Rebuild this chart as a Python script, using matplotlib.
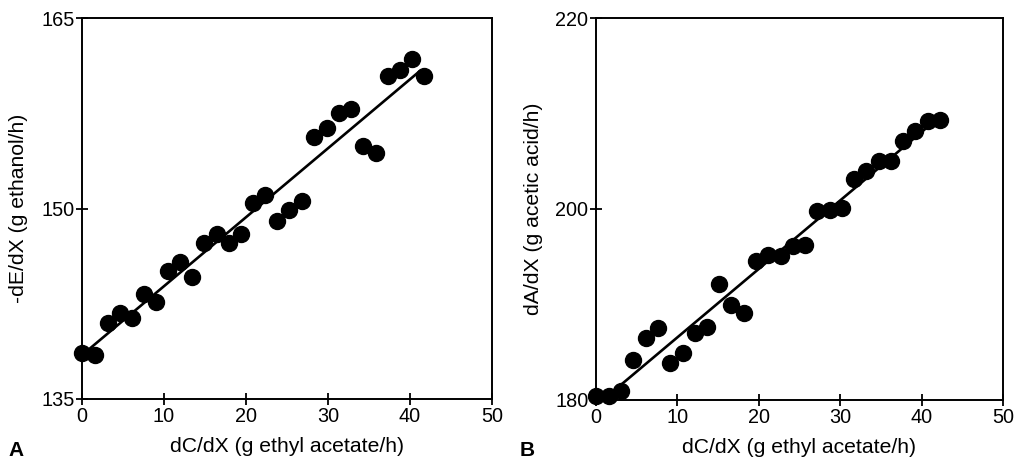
import numpy as np
import matplotlib
matplotlib.use("Agg")
import matplotlib.pyplot as plt

plt.rcParams['font.family'] = ['Liberation Sans', 'DejaVu Sans']

# Panel A data: ethyl acetate rate vs ethanol consumption
xa = [0.0, 1.6, 3.2, 4.6, 6.1, 7.6, 9.0, 10.5, 12.0, 13.4, 14.9, 16.5, 17.9, 19.4,
      20.9, 22.3, 23.8, 25.2, 26.8, 28.3, 29.9, 31.3, 32.8, 34.3, 35.9, 37.3, 38.8,
      40.2, 41.7]
ya = [138.6, 138.5, 141.0, 141.8, 141.4, 143.3, 142.6, 145.1, 145.8, 144.6, 147.3,
      148.0, 147.3, 148.0, 150.4, 151.1, 149.0, 149.9, 150.6, 155.6, 156.3, 157.5,
      157.8, 154.9, 154.4, 160.4, 160.9, 161.8, 160.4]

# Panel B data: ethyl acetate rate vs acetic acid consumption
xb = [0.0, 1.6, 3.1, 4.5, 6.1, 7.6, 9.1, 10.7, 12.2, 13.6, 15.1, 16.6, 18.2, 19.7,
      21.1, 22.7, 24.2, 25.7, 27.1, 28.7, 30.2, 31.7, 33.2, 34.8, 36.2, 37.7, 39.2,
      40.8, 42.3]
yb = [180.4, 180.4, 180.9, 184.2, 186.5, 187.5, 183.9, 184.9, 187.0, 187.6, 192.1,
      189.9, 189.1, 194.6, 195.2, 195.1, 196.1, 196.2, 199.8, 199.9, 200.1, 203.1,
      204.0, 205.0, 205.0, 207.1, 208.2, 209.2, 209.3]

xticks = [0, 10, 20, 30, 40, 50]
yticks_a = [135, 150, 165]
yticks_b = [180, 200, 220]
xlabel = "dC/dX (g ethyl acetate/h)"
ylabel_a = "-dE/dX (g ethanol/h)"
ylabel_b = "dA/dX (g acetic acid/h)"

W, H = 1017, 463
fig = plt.figure(figsize=(W / 100, H / 100), dpi=100)

def px_axes(l, r, t, b):
    return fig.add_axes([l / W, 1 - b / H, (r - l) / W, (b - t) / H])

axA = px_axes(82, 492, 18, 399)
axB = px_axes(596, 1003, 18, 400)

fs_tick = 14.3
fs_label = 15.2

def style(ax, x, y, yticks, ylabel, ylabel_x):
    ax.plot(x, y, 'o', color='black', markersize=11.5, zorder=3, clip_on=False)
    k, c = np.polyfit(x, y, 1)
    xs = np.array([min(x) + 0.6, max(x) - 0.6])
    ax.plot(xs, k * xs + c, '-', color='black', lw=1.9, zorder=2)
    ax.set_xlim(0, 50)
    ax.set_ylim(yticks[0], yticks[-1])
    ax.set_xticks(xticks)
    ax.set_yticks(yticks)
    ax.tick_params(direction='inout', length=8, width=1.3, labelsize=fs_tick,
                   colors='black', pad=1.5)
    for s in ax.spines.values():
        s.set_linewidth(1.4)
        s.set_color('black')
    ax.set_xlabel(xlabel, fontsize=fs_label)
    ax.xaxis.set_label_coords(0.5, -0.1)
    ax.set_ylabel(ylabel, fontsize=fs_label)
    ax.yaxis.set_label_coords(ylabel_x, 0.5)

style(axA, xa, ya, yticks_a, ylabel_a, -0.132)
style(axB, xb, yb, yticks_b, ylabel_b, -0.131)

fig.text(16 / W, 1 - 451 / H, "A", fontsize=15, fontweight='bold',
         ha='center', va='center')
fig.text(527 / W, 1 - 451 / H, "B", fontsize=15, fontweight='bold',
         ha='center', va='center')

fig.savefig("out.png", dpi=100)
